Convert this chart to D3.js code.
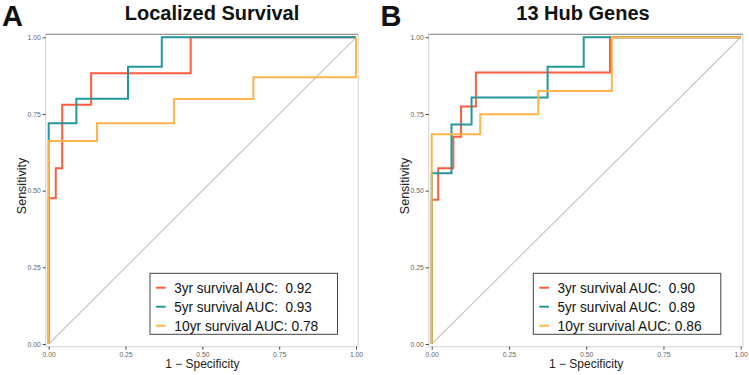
<!DOCTYPE html>
<html>
<head>
<meta charset="utf-8">
<script src="https://cdn.jsdelivr.net/npm/d3@7"></script>
<style>
  body { margin: 0; background: #fff; }
  text { font-family: "Liberation Sans", Arial, sans-serif; }
</style>
</head>
<body>
<div id="chart"></div>
<script>
// ROC curves, 2 panels (A: Localized Survival, B: 13 Hub Genes)

const width = 749, height = 375;

const seriesNames = ["3yr survival", "5yr survival", "10yr survival"];
const colors = ["#FF5B3C", "#22989B", "#FFB548"];
const ticks = [0, 0.25, 0.5, 0.75, 1];
const tickLabels = ["0.00", "0.25", "0.50", "0.75", "1.00"];

// Panel A - step points (1 - specificity, sensitivity)
const fprA3 = [0, 0, 0.023, 0.044, 0.138, 0.462, 1];
const tprA3 = [0, 0.475, 0.573, 0.78, 0.883, 1, 1];
const fprA5 = [0, 0, 0.09, 0.258, 0.368, 1];
const tprA5 = [0, 0.72, 0.80, 0.904, 1, 1];
const fprA10 = [0, 0, 0.157, 0.408, 0.666, 1];
const tprA10 = [0, 0.662, 0.72, 0.799, 0.87, 1];
const aucA = ["0.92", "0.93", "0.78"];

// Panel B
const fprB3 = [0, 0, 0.021, 0.07, 0.095, 0.143, 0.577, 1];
const tprB3 = [0, 0.47, 0.573, 0.676, 0.774, 0.885, 1, 1];
const fprB5 = [0, 0, 0.064, 0.129, 0.375, 0.492, 1];
const tprB5 = [0, 0.557, 0.716, 0.804, 0.904, 1, 1];
const fprB10 = [0, 0, 0.157, 0.345, 0.583, 1];
const tprB10 = [0, 0.684, 0.749, 0.825, 1, 1];
const aucB = ["0.90", "0.89", "0.86"];

const panels = [
  { letter: "A", title: "Localized Survival", x0: 48.7, x1: 356, titleX: 212, letterX: 2,
    fpr: [fprA3, fprA5, fprA10], tpr: [tprA3, tprA5, tprA10], auc: aucA, legX: 150 },
  { letter: "B", title: "13 Hub Genes", x0: 431.7, x1: 740.7, titleX: 583, letterX: 380.5,
    fpr: [fprB3, fprB5, fprB10], tpr: [tprB3, tprB5, tprB10], auc: aucB, legX: 533.3 }
];

const svg = d3.select("#chart")
  .append("svg")
  .attr("width", width)
  .attr("height", height);

panels.forEach((p) => {
  const x = d3.scaleLinear().domain([0, 1]).range([p.x0, p.x1]);
  const y = d3.scaleLinear().domain([0, 1]).range([344, 37.3]);
  const g = svg.append("g");

  // khung panel
  const left = x(0) - 3, right = x(1) + 2.2, top = y(1) - 3, bottom = y(0) + 2.7;
  g.append("rect")
    .attr("x", left).attr("y", top)
    .attr("width", right - left).attr("height", bottom - top)
    .attr("fill", "none").attr("stroke", "#d2d2d2").attr("stroke-width", 1);
  g.append("line")
    .attr("x1", left).attr("x2", right).attr("y1", top).attr("y2", top)
    .attr("stroke", "#8a8a8a").attr("stroke-width", 1);

  // đường chéo
  g.append("line")
    .attr("x1", x(0)).attr("y1", y(0)).attr("x2", x(1)).attr("y2", y(1))
    .attr("stroke", "#c8c8c8").attr("stroke-width", 1.2);

  // trục Y
  const yAxis = g.append("g")
    .attr("transform", `translate(${left},0)`)
    .call(d3.axisLeft(y).tickValues(ticks).tickFormat((d, i) => tickLabels[i]).tickSize(3).tickPadding(2));
  yAxis.select(".domain").remove();
  yAxis.selectAll("line").attr("stroke", "#444");
  yAxis.selectAll("text").attr("font-size", "6.8px").attr("fill", "#666");

  // trục X
  const xAxis = g.append("g")
    .attr("transform", `translate(0,${bottom})`)
    .call(d3.axisBottom(x).tickValues(ticks).tickFormat((d, i) => tickLabels[i]).tickSize(3).tickPadding(2));
  xAxis.select(".domain").remove();
  xAxis.selectAll("line").attr("stroke", "#444");
  xAxis.selectAll("text").attr("font-size", "6.8px").attr("fill", "#666");

  // đường ROC
  const line = d3.line()
    .x(d => x(d[0]))
    .y(d => y(d[1]))
    .curve(d3.curveStepAfter);

  seriesNames.forEach((name, i) => {
    const pts = p.fpr[i].map((f, j) => [f, p.tpr[i][j]]);
    g.append("path")
      .datum(pts)
      .attr("fill", "none")
      .attr("stroke", colors[i])
      .attr("stroke-width", 2)
      .attr("d", line);
  });

  // tiêu đề + chữ cái
  svg.append("text")
    .attr("x", p.titleX).attr("y", 19.5)
    .attr("text-anchor", "middle")
    .attr("font-weight", "bold")
    .attr("font-size", "20px")
    .attr("fill", "#111")
    .text(p.title);
  svg.append("text")
    .attr("x", p.letterX).attr("y", 25.5)
    .attr("font-weight", "bold")
    .attr("font-size", "29px")
    .attr("fill", "#111")
    .text(p.letter);

  // nhãn trục
  svg.append("text")
    .attr("x", (x(0) + x(1)) / 2).attr("y", 368)
    .attr("text-anchor", "middle")
    .attr("font-size", "12px")
    .attr("fill", "#222")
    .text("1 \u2212 Specificity");
  svg.append("text")
    .attr("transform", `translate(${x(0) - 22.5},186) rotate(-90)`)
    .attr("text-anchor", "middle")
    .attr("font-size", "12.5px")
    .attr("fill", "#222")
    .text("Sensitivity");

  // legend
  const leg = g.append("g").attr("transform", `translate(${p.legX},273.3)`);
  leg.append("rect")
    .attr("width", 187.5).attr("height", 61)
    .attr("fill", "#fff").attr("stroke", "#444").attr("stroke-width", 1);
  seriesNames.forEach((name, i) => {
    const cy = 14.4 + i * 19;
    leg.append("line")
      .attr("x1", 6).attr("x2", 15.7).attr("y1", cy).attr("y2", cy)
      .attr("stroke", colors[i]).attr("stroke-width", 2);
    // giữ 2 dấu cách để số AUC thẳng hàng như bản gốc
    const label = i === 2 ? `${name} AUC: ${p.auc[i]}` : `${name} AUC:  ${p.auc[i]}`;
    leg.append("text")
      .attr("x", 24.3).attr("y", cy + 5.2)
      .attr("font-size", "14.5px")
      .attr("fill", "#111")
      .style("white-space", "pre")
      .attr("textLength", i === 2 ? 144 : 137.4)
      .attr("lengthAdjust", "spacingAndGlyphs")
      .text(label);
  });
});
</script>
</body>
</html>
